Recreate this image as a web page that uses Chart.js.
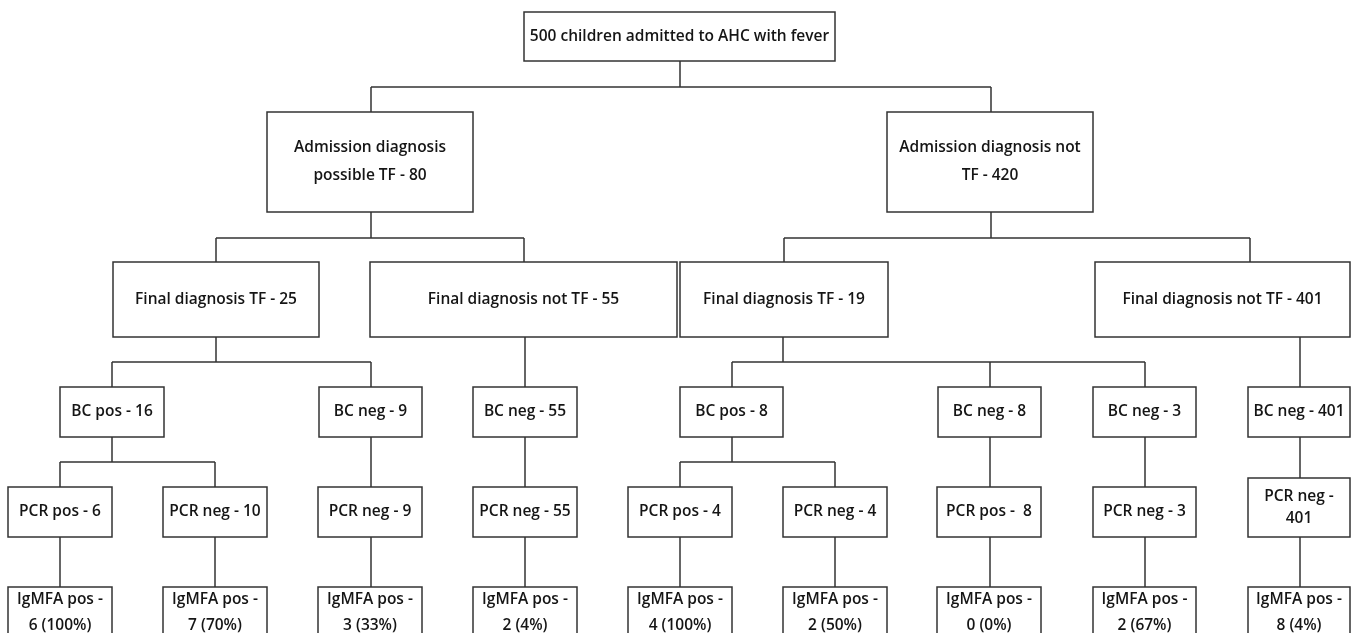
<!DOCTYPE html>
<html>
<head>
<meta charset="utf-8">
<script src="https://cdn.jsdelivr.net/npm/chart.js@4/dist/chart.umd.min.js"></script>
<style>
  html, body { margin: 0; padding: 0; background: #fff; }
  #wrap { width: 1351px; height: 633px; position: relative; }
</style>
</head>
<body>
<div id="wrap"><canvas id="fluxo"></canvas></div>
<script>
// textos de cada caixa ("|" quebra a linha)
const nodeText = [
  '500 children admitted to AHC with fever',
  'Admission diagnosis|possible TF - 80', 'Admission diagnosis not|TF - 420',
  'Final diagnosis TF - 25', 'Final diagnosis not TF - 55', 'Final diagnosis TF - 19', 'Final diagnosis not TF - 401',
  'BC pos - 16', 'BC neg - 9', 'BC neg - 55', 'BC pos - 8', 'BC neg - 8', 'BC neg - 3', 'BC neg - 401',
  'PCR pos - 6', 'PCR neg - 10', 'PCR neg - 9', 'PCR neg - 55', 'PCR pos - 4', 'PCR neg - 4', 'PCR pos -  8', 'PCR neg - 3', 'PCR neg -|401',
  'IgMFA pos -|6 (100%)', 'IgMFA pos -|7 (70%)', 'IgMFA pos -|3 (33%)', 'IgMFA pos -|2 (4%)',
  'IgMFA pos -|4 (100%)', 'IgMFA pos -|2 (50%)', 'IgMFA pos -|0 (0%)', 'IgMFA pos -|2 (67%)', 'IgMFA pos -|8 (4%)'
];
// pai de cada caixa (-1 = raiz)
const nodeParent = [-1, 0, 0, 1, 1, 2, 2, 3, 3, 4, 5, 5, 5, 6, 7, 7, 8, 9, 10, 10, 11, 12, 13, 14, 15, 16, 17, 18, 19, 20, 21, 22];
const nodeLevel  = [0, 1, 1, 2, 2, 2, 2, 3, 3, 3, 3, 3, 3, 3, 4, 4, 4, 4, 4, 4, 4, 4, 4, 5, 5, 5, 5, 5, 5, 5, 5, 5];

// layout (unidades do eixo x = px da figura)
const boxLeft  = [524, 267, 887, 113, 370, 680, 1095, 60, 319, 473, 680, 938, 1093, 1248,
                  8, 163, 318, 473, 628, 783, 937, 1093, 1248, 8, 163, 318, 473, 628, 783, 937, 1093, 1248];
const boxRight = [835, 473, 1093, 319, 677, 888, 1350, 164, 422, 577, 783, 1041, 1196, 1350,
                  112, 267, 422, 577, 732, 887, 1041, 1196, 1350, 112, 267, 422, 577, 732, 887, 1041, 1196, 1350];
const inX  = [680, 371, 991, 216, 524, 784, 1250, 112, 371, 525, 732, 990, 1145, 1300,
              60, 215, 371, 525, 680, 835, 990, 1145, 1300, 60, 215, 371, 525, 680, 835, 990, 1145, 1300];
const outX = [680, 371, 991, 216, 525, 783, 1300, 112, 371, 525, 732, 990, 1145, 1300,
              60, 215, 371, 525, 680, 835, 990, 1145, 1300, 60, 215, 371, 525, 680, 835, 990, 1145, 1300];
const levelTop    = [12, 112, 262, 387, 487, 587];
const levelBottom = [61, 212, 337, 437, 537, 645];
const busY        = [87, 238, 362, 462, null];
const lineHeight  = [22, 28, 22, 22, 22, 26];

const corLinha = '#333333';
const corTexto = '#151515';

const fluxoPlugin = {
  id: 'fluxo',
  afterDatasetsDraw(chart) {
    const ctx = chart.ctx;
    const sx = chart.scales.x, sy = chart.scales.y;
    const px = v => sx.getPixelForValue(v);
    const py = v => sy.getPixelForValue(v);
    ctx.save();
    ctx.strokeStyle = corLinha;
    ctx.lineWidth = 1.5;

    // conectores
    nodeText.forEach((_, p) => {
      const filhos = nodeParent.map((pp, i) => pp === p ? i : -1).filter(i => i >= 0);
      if (!filhos.length) return;
      const lv = nodeLevel[p];
      const yb = levelBottom[lv];
      const yt = levelTop[lv + 1];
      ctx.beginPath();
      if (filhos.length === 1) {
        ctx.moveTo(px(outX[p]), py(yb));
        ctx.lineTo(px(inX[filhos[0]]), py(yt));
      } else {
        const xs = filhos.map(f => inX[f]);
        ctx.moveTo(px(outX[p]), py(yb));
        ctx.lineTo(px(outX[p]), py(busY[lv]));
        ctx.moveTo(px(Math.min(...xs)), py(busY[lv]));
        ctx.lineTo(px(Math.max(...xs)), py(busY[lv]));
        filhos.forEach(f => {
          ctx.moveTo(px(inX[f]), py(busY[lv]));
          ctx.lineTo(px(inX[f]), py(levelTop[nodeLevel[f]]));
        });
      }
      ctx.stroke();
    });

    // caixas e textos
    ctx.font = '600 15.5px "Open Sans", sans-serif';
    ctx.textAlign = 'center';
    ctx.textBaseline = 'middle';
    nodeText.forEach((txt, i) => {
      const lv = nodeLevel[i];
      const top = i === 22 ? 478 : levelTop[lv];
      const bot = levelBottom[lv];
      const x0 = px(boxLeft[i]), x1 = px(boxRight[i]);
      const y0 = py(top), y1 = py(bot);
      ctx.fillStyle = '#fff';
      ctx.fillRect(x0, y0, x1 - x0, y1 - y0);
      ctx.strokeRect(x0, y0, x1 - x0, y1 - y0);
      const linhas = txt.split('|');
      let cy = (y0 + y1) / 2;
      if (lv === 5) cy = py(613);
      const lh = lineHeight[lv];
      ctx.fillStyle = corTexto;
      linhas.forEach((l, k) => {
        ctx.fillText(l, (x0 + x1) / 2, cy + (k - (linhas.length - 1) / 2) * lh);
      });
    });
    ctx.restore();
  }
};

new Chart(document.getElementById('fluxo').getContext('2d'), {
  type: 'scatter',
  data: {
    datasets: [{
      data: nodeText.map((_, i) => ({ x: (boxLeft[i] + boxRight[i]) / 2, y: levelTop[nodeLevel[i]] })),
      pointRadius: 0
    }]
  },
  options: {
    responsive: true,
    maintainAspectRatio: false,
    animation: false,
    layout: { padding: 0 },
    plugins: { legend: { display: false }, tooltip: { enabled: false } },
    scales: {
      x: { type: 'linear', min: 0, max: 1351, display: false },
      y: { type: 'linear', min: 0, max: 633, reverse: true, display: false }
    }
  },
  plugins: [fluxoPlugin]
});
</script>
</body>
</html>
